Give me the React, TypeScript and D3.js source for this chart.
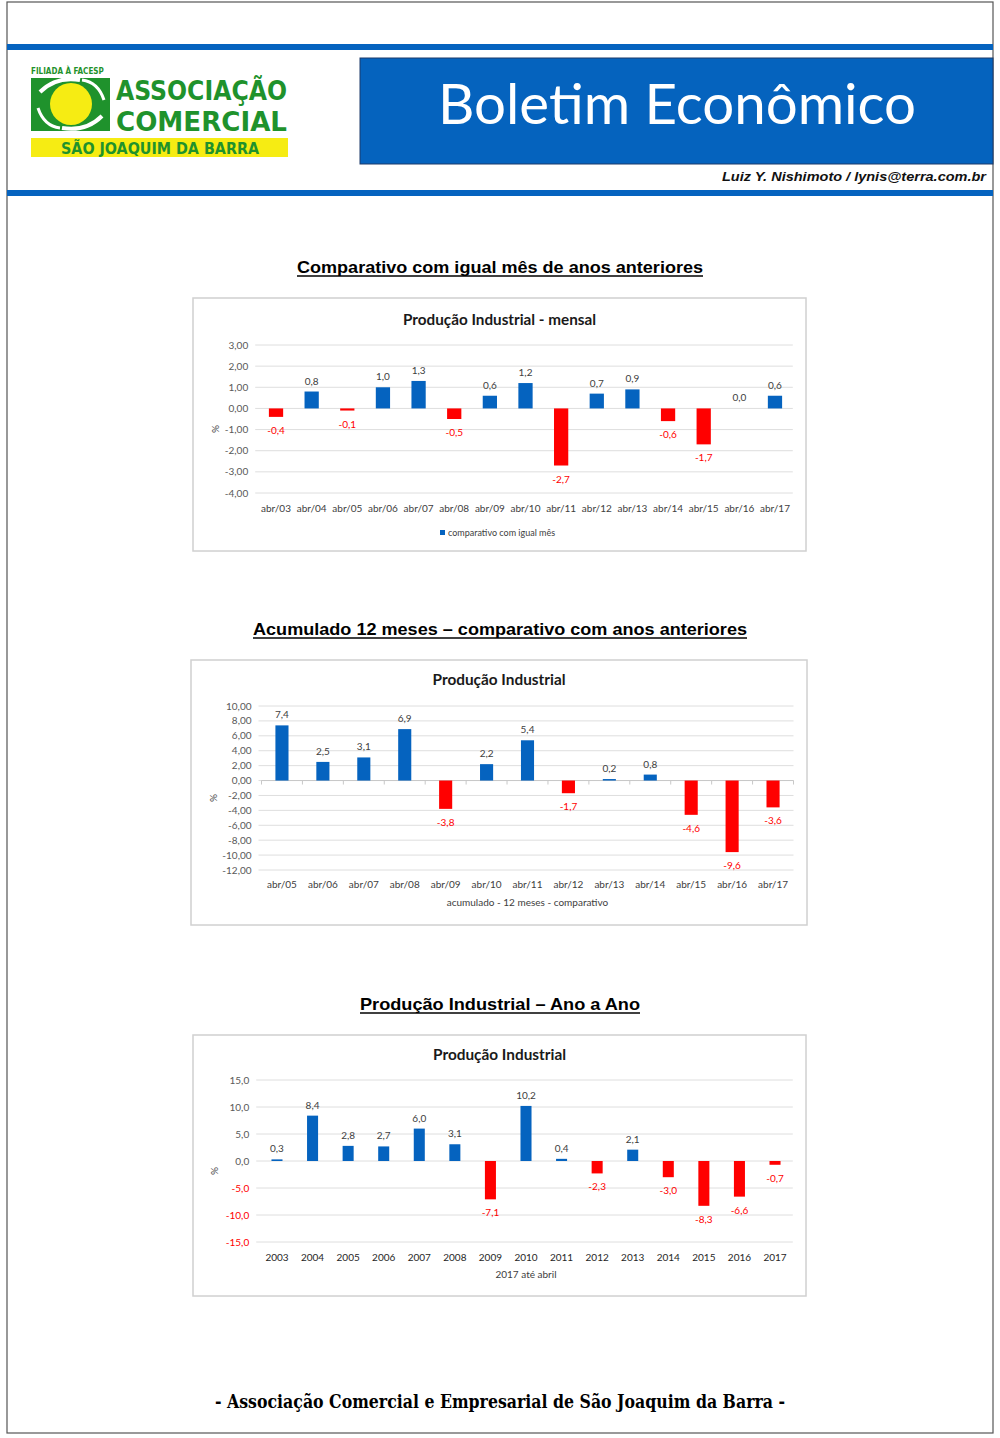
import React from 'react';
import * as d3 from 'd3';

const monthlyCategories = ['abr/03', 'abr/04', 'abr/05', 'abr/06', 'abr/07', 'abr/08', 'abr/09', 'abr/10', 'abr/11', 'abr/12', 'abr/13', 'abr/14', 'abr/15', 'abr/16', 'abr/17'];
const monthlyValues = [-0.4, 0.8, -0.1, 1.0, 1.3, -0.5, 0.6, 1.2, -2.7, 0.7, 0.9, -0.6, -1.7, 0.0, 0.6];
const monthlyTicks = [3, 2, 1, 0, -1, -2, -3, -4];

const accumCategories = ['abr/05', 'abr/06', 'abr/07', 'abr/08', 'abr/09', 'abr/10', 'abr/11', 'abr/12', 'abr/13', 'abr/14', 'abr/15', 'abr/16', 'abr/17'];
const accumValues = [7.4, 2.5, 3.1, 6.9, -3.8, 2.2, 5.4, -1.7, 0.2, 0.8, -4.6, -9.6, -3.6];
const accumTicks = [10, 8, 6, 4, 2, 0, -2, -4, -6, -8, -10, -12];

const yearCategories = ['2003', '2004', '2005', '2006', '2007', '2008', '2009', '2010', '2011', '2012', '2013', '2014', '2015', '2016', '2017'];
const yearValues = [0.3, 8.4, 2.8, 2.7, 6.0, 3.1, -7.1, 10.2, 0.4, -2.3, 2.1, -3.0, -8.3, -6.6, -0.7];
const yearTicks = [15, 10, 5, 0, -5, -10, -15];

const locale = d3.formatLocale({ decimal: ',', thousands: '.', grouping: [3], currency: ['R$', ''], minus: '-' });
const fmt1 = locale.format('.1f');
const fmt2 = locale.format('.2f');

const BLUE = '#0563BF';
const RED = '#FF0000';
const CHART_FONT = 'Lato, "Open Sans", sans-serif';

type ChartProps = {
  box: { x: number; y: number; w: number; h: number };
  title: string;
  titleY: number;
  titleW: number;
  left: number;
  right: number;
  top: number;
  bottom: number;
  domain: [number, number];
  ticks: number[];
  tickFmt: (n: number) => string;
  redNegTicks?: boolean;
  categories: string[];
  values: number[];
  barRatio: number;
  catY: number;
  catColor: string;
  axisTitle?: string;
  axisTitleY?: number;
  legend?: { x: number; y: number; text: string };
  catTicks?: boolean;
  pctX: number;
};

function BarChart(p: ChartProps) {
  const x = d3.scaleBand<string>().domain(p.categories).range([p.left, p.right]).padding(0);
  const y = d3.scaleLinear().domain(p.domain).range([p.bottom, p.top]);
  const bw = x.bandwidth() * p.barRatio;
  const y0 = y(0);
  return (
    <g fontFamily={CHART_FONT}>
      <rect x={p.box.x} y={p.box.y} width={p.box.w} height={p.box.h} fill="#fff" stroke="#d0d0d0" strokeWidth={1.5} />
      <text x={p.box.x + p.box.w / 2} y={p.titleY} textAnchor="middle" fontSize={15} fontWeight="bold" fill="#1a1a1a" textLength={p.titleW} lengthAdjust="spacingAndGlyphs">{p.title}</text>
      {p.ticks.map((t) => (
        <g key={t}>
          <line x1={p.left - 3} x2={p.right} y1={y(t)} y2={y(t)} stroke="#dedede" strokeWidth={1} />
          <text x={p.left - 10} y={y(t) + 3.5} textAnchor="end" fontSize={10} fill={p.redNegTicks && t < 0 ? RED : '#595959'}>{p.tickFmt(t)}</text>
        </g>
      ))}
      {p.catTicks && (
        <g>
          <line x1={p.left} x2={p.right} y1={y0} y2={y0} stroke="#c8c8c8" />
          {d3.range(p.categories.length + 1).map((i) => {
            const xx = p.left + i * x.step();
            return <line key={i} x1={xx} x2={xx} y1={y0} y2={y0 + 4} stroke="#c8c8c8" />;
          })}
        </g>
      )}
      <text transform={`translate(${p.pctX},${(p.top + p.bottom) / 2 + 10}) rotate(-90)`} textAnchor="middle" fontSize={10} fill="#404040">%</text>
      {p.categories.map((c, i) => {
        const v = p.values[i];
        const cx = (x(c) as number) + x.bandwidth() / 2;
        const yt = y(Math.max(0, v));
        const yb = y(Math.min(0, v));
        return (
          <g key={c}>
            <rect x={cx - bw / 2} y={yt} width={bw} height={Math.max(0, yb - yt)} fill={v < 0 ? RED : BLUE} />
            <text x={cx} y={v < 0 ? yb + 17 : yt - 7} textAnchor="middle" fontSize={10} fill={v < 0 ? RED : '#404040'}>{fmt1(v)}</text>
            <text x={cx} y={p.catY} textAnchor="middle" fontSize={10} fill={p.catColor}>{c}</text>
          </g>
        );
      })}
      {p.axisTitle && (
        <text x={(p.left + p.right) / 2} y={p.axisTitleY} textAnchor="middle" fontSize={10} fill="#404040">{p.axisTitle}</text>
      )}
      {p.legend && (
        <g>
          <rect x={p.legend.x} y={p.legend.y - 6} width={5} height={5} fill={BLUE} />
          <text x={p.legend.x + 8} y={p.legend.y} fontSize={9} fill="#404040">{p.legend.text}</text>
        </g>
      )}
    </g>
  );
}

const LOGO_FONT = '"Liberation Sans Narrow", "DejaVu Sans Condensed", "Liberation Sans", sans-serif';

function Logo() {
  const green = '#1F922C';
  return (
    <g>
      <text x={31} y={74} fontFamily={LOGO_FONT} fontWeight="bold" fontSize={8} fill={green}>FILIADA À FACESP</text>
      <rect x={31} y={78} width={79} height={53} fill={green} />
      <circle cx={71} cy={104} r={21} fill="#F6EC13" />
      <path d="M40,92 Q56,76 80,80" fill="none" stroke="#fff" strokeWidth={4} />
      <path d="M102,116 Q86,132 62,128" fill="none" stroke="#fff" strokeWidth={4} />
      <path d="M38,108 Q44,126 60,128" fill="none" stroke="#fff" strokeWidth={3} />
      <path d="M104,100 Q98,82 82,80" fill="none" stroke="#fff" strokeWidth={3} />
      <text x={116} y={100} fontFamily={LOGO_FONT} fontWeight="bold" fontSize={27} fill={green} textLength={171} lengthAdjust="spacingAndGlyphs">ASSOCIAÇÃO</text>
      <text x={116} y={131} fontFamily={LOGO_FONT} fontWeight="bold" fontSize={27} fill={green} textLength={171} lengthAdjust="spacingAndGlyphs">COMERCIAL</text>
      <rect x={31} y={138} width={257} height={19} fill="#F6EC13" />
      <text x={160} y={154} textAnchor="middle" fontFamily={LOGO_FONT} fontWeight="bold" fontSize={15} fill={green} textLength={198} lengthAdjust="spacingAndGlyphs">SÃO JOAQUIM DA BARRA</text>
    </g>
  );
}

function Heading({ y, text, width }: { y: number; text: string; width: number }) {
  return (
    <g>
      <text x={500} y={y} textAnchor="middle" fontFamily='"Liberation Sans", Arial, sans-serif' fontWeight="bold" fontSize={17} fill="#000" textLength={width} lengthAdjust="spacingAndGlyphs">{text}</text>
      <line x1={500 - width / 2} x2={500 + width / 2} y1={y + 3} y2={y + 3} stroke="#000" strokeWidth={1.5} />
    </g>
  );
}

export default function App() {
  return (
    <svg width={1000} height={1438} style={{ position: 'absolute', left: 0, top: 0, background: '#fff' }}>
      <rect x={0} y={0} width={1000} height={1438} fill="#fff" />
      <rect x={7} y={2} width={986} height={1431} fill="none" stroke="#555" strokeWidth={1.2} />
      <rect x={7} y={44} width={986} height={6} fill={BLUE} />
      <rect x={7} y={190} width={986} height={6} fill={BLUE} />
      <Logo />
      <rect x={360} y={58} width={633} height={106} fill="#0563BE" stroke="#1d3a6a" strokeWidth={1} />
      <text x={677} y={124} textAnchor="middle" fontFamily='Lato, "Open Sans", sans-serif' fontSize={56} fill="#fff" textLength={478} lengthAdjust="spacingAndGlyphs">Boletim Econômico</text>
      <text x={986} y={181} textAnchor="end" fontFamily='"Liberation Sans", Arial, sans-serif' fontStyle="italic" fontWeight="bold" fontSize={13} fill="#111" textLength={264} lengthAdjust="spacingAndGlyphs">Luiz Y. Nishimoto / lynis@terra.com.br</text>

      <Heading y={273} text="Comparativo com igual mês de anos anteriores" width={406} />
      <BarChart
        box={{ x: 193, y: 298, w: 613, h: 253 }}
        title="Produção Industrial - mensal"
        titleY={325}
        titleW={193}
        left={258.2}
        right={792.8}
        top={345}
        bottom={493}
        domain={[-4, 3]}
        ticks={monthlyTicks}
        tickFmt={fmt2}
        categories={monthlyCategories}
        values={monthlyValues}
        barRatio={0.4}
        catY={512}
        catColor="#404040"
        legend={{ x: 440, y: 536, text: 'comparativo com igual mês' }}
        pctX={219}
      />

      <Heading y={635} text="Acumulado 12 meses – comparativo com anos anteriores" width={494} />
      <BarChart
        box={{ x: 191, y: 660, w: 616, h: 265 }}
        title="Produção Industrial"
        titleY={685}
        titleW={133}
        left={261.5}
        right={793.5}
        top={706}
        bottom={870}
        domain={[-12, 10]}
        ticks={accumTicks}
        tickFmt={fmt2}
        categories={accumCategories}
        values={accumValues}
        barRatio={0.32}
        catY={888}
        catColor="#404040"
        axisTitle="acumulado - 12 meses - comparativo"
        axisTitleY={906}
        catTicks
        pctX={217}
      />

      <Heading y={1010} text="Produção Industrial – Ano a Ano" width={280} />
      <BarChart
        box={{ x: 193, y: 1035, w: 613, h: 261 }}
        title="Produção Industrial"
        titleY={1060}
        titleW={133}
        left={259.2}
        right={792.8}
        top={1080}
        bottom={1242}
        domain={[-15, 15]}
        ticks={yearTicks}
        tickFmt={fmt1}
        redNegTicks
        categories={yearCategories}
        values={yearValues}
        barRatio={0.31}
        catY={1261}
        catColor="#262626"
        axisTitle="2017 até abril"
        axisTitleY={1278}
        pctX={218}
      />

      <text x={500} y={1408} textAnchor="middle" fontFamily='"DejaVu Serif Condensed", "Liberation Serif", serif' fontWeight="bold" fontSize={18} fill="#000" textLength={570} lengthAdjust="spacingAndGlyphs">- Associação Comercial e Empresarial de São Joaquim da Barra -</text>
    </svg>
  );
}
